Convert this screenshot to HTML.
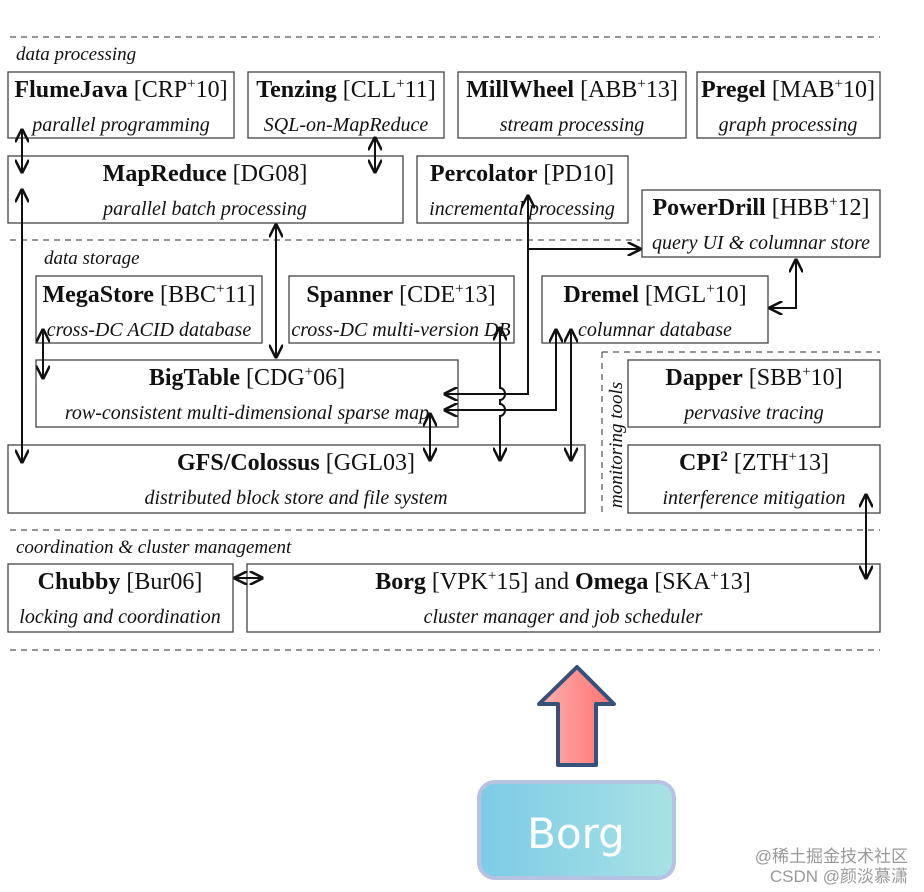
<!DOCTYPE html>
<html><head><meta charset="utf-8"><style>
html,body{margin:0;padding:0;background:#fff;}
svg{display:block;}
.t{font-family:"Liberation Serif",serif;font-size:24px;fill:#111;text-anchor:middle;}
.b{font-weight:bold;}
.i{font-family:"Liberation Serif",serif;font-style:italic;font-size:20px;fill:#111;text-anchor:middle;}
.s{font-family:"Liberation Serif",serif;font-style:italic;font-size:19px;fill:#111;}
.bx{fill:#fff;stroke:#444;stroke-width:1.3;}
.d{stroke:#555;stroke-width:1.2;stroke-dasharray:6 5;fill:none;}
.a{stroke:#111;stroke-width:2;fill:none;marker-start:url(#m);marker-end:url(#m);}
.a1{stroke:#111;stroke-width:2;fill:none;marker-end:url(#m);}
</style></head><body>
<svg width="924" height="892" viewBox="0 0 924 892" xmlns="http://www.w3.org/2000/svg">
<defs>
<marker id="m" viewBox="0 0 10 10" refX="9" refY="5" markerWidth="7" markerHeight="7" orient="auto-start-reverse"><path d="M0,0 L10,5 L0,10" fill="none" stroke="#111" stroke-width="1.8"/></marker>
<linearGradient id="ra" x1="0" x2="1"><stop offset="0" stop-color="#ffb0b0"/><stop offset="1" stop-color="#ff7070"/></linearGradient>
<linearGradient id="bg" x1="0" x2="1"><stop offset="0" stop-color="#7ccbe6"/><stop offset="1" stop-color="#a8e2e4"/></linearGradient>
</defs>
<line class="d" x1="10" y1="37" x2="880" y2="37"/>
<line class="d" x1="10" y1="240" x2="640" y2="240"/>
<line class="d" x1="10" y1="530" x2="880" y2="530"/>
<line class="d" x1="10" y1="650" x2="880" y2="650"/>
<line class="d" x1="602" y1="352" x2="602" y2="515"/>
<line class="d" x1="602" y1="352" x2="880" y2="352"/>
<text class="s" x="16" y="60">data processing</text>
<text class="s" x="44" y="264">data storage</text>
<text class="s" x="16" y="553">coordination &amp; cluster management</text>
<text class="s" transform="translate(622,508) rotate(-90)">monitoring tools</text>

<rect class="bx" x="8" y="72" width="226" height="66"/>
<text class="t" x="121" y="97"><tspan class="b">FlumeJava</tspan> [CRP<tspan font-size="15" dy="-9">+</tspan><tspan dy="9">10]</tspan></text>
<text class="i" x="121" y="131">parallel programming</text>
<rect class="bx" x="248" y="72" width="196" height="66"/>
<text class="t" x="346" y="97"><tspan class="b">Tenzing</tspan> [CLL<tspan font-size="15" dy="-9">+</tspan><tspan dy="9">11]</tspan></text>
<text class="i" x="346" y="131">SQL-on-MapReduce</text>
<rect class="bx" x="458" y="72" width="228" height="66"/>
<text class="t" x="572" y="97"><tspan class="b">MillWheel</tspan> [ABB<tspan font-size="15" dy="-9">+</tspan><tspan dy="9">13]</tspan></text>
<text class="i" x="572" y="131">stream processing</text>
<rect class="bx" x="697" y="72" width="183" height="66"/>
<text class="t" x="788" y="97"><tspan class="b">Pregel</tspan> [MAB<tspan font-size="15" dy="-9">+</tspan><tspan dy="9">10]</tspan></text>
<text class="i" x="788" y="131">graph processing</text>

<rect class="bx" x="8" y="156" width="395" height="67"/>
<text class="t" x="205" y="181"><tspan class="b">MapReduce</tspan> [DG08]</text>
<text class="i" x="205" y="215">parallel batch processing</text>
<rect class="bx" x="417" y="156" width="211" height="67"/>
<text class="t" x="522" y="181"><tspan class="b">Percolator</tspan> [PD10]</text>
<text class="i" x="522" y="215">incremental processing</text>
<rect class="bx" x="642" y="190" width="238" height="67"/>
<text class="t" x="761" y="215"><tspan class="b">PowerDrill</tspan> [HBB<tspan font-size="15" dy="-9">+</tspan><tspan dy="9">12]</tspan></text>
<text class="i" x="761" y="249">query UI &amp; columnar store</text>

<rect class="bx" x="36" y="276" width="226" height="67"/>
<text class="t" x="149" y="302"><tspan class="b">MegaStore</tspan> [BBC<tspan font-size="15" dy="-9">+</tspan><tspan dy="9">11]</tspan></text>
<text class="i" x="149" y="336">cross-DC ACID database</text>
<rect class="bx" x="289" y="276" width="225" height="67"/>
<text class="t" x="401" y="302"><tspan class="b">Spanner</tspan> [CDE<tspan font-size="15" dy="-9">+</tspan><tspan dy="9">13]</tspan></text>
<text class="i" x="401" y="336">cross-DC multi-version DB</text>
<rect class="bx" x="542" y="276" width="226" height="67"/>
<text class="t" x="655" y="302"><tspan class="b">Dremel</tspan> [MGL<tspan font-size="15" dy="-9">+</tspan><tspan dy="9">10]</tspan></text>
<text class="i" x="655" y="336">columnar database</text>

<rect class="bx" x="36" y="360" width="422" height="67"/>
<text class="t" x="247" y="385"><tspan class="b">BigTable</tspan> [CDG<tspan font-size="15" dy="-9">+</tspan><tspan dy="9">06]</tspan></text>
<text class="i" x="247" y="419">row-consistent multi-dimensional sparse map</text>
<rect class="bx" x="628" y="360" width="252" height="67"/>
<text class="t" x="754" y="385"><tspan class="b">Dapper</tspan> [SBB<tspan font-size="15" dy="-9">+</tspan><tspan dy="9">10]</tspan></text>
<text class="i" x="754" y="419">pervasive tracing</text>

<rect class="bx" x="8" y="445" width="577" height="68"/>
<text class="t" x="296" y="470"><tspan class="b">GFS/Colossus</tspan> [GGL03]</text>
<text class="i" x="296" y="504">distributed block store and file system</text>
<rect class="bx" x="628" y="445" width="252" height="68"/>
<text class="t" x="754" y="470"><tspan class="b">CPI<tspan font-size="15" dy="-9">2</tspan></tspan><tspan dy="9"> [ZTH</tspan><tspan font-size="15" dy="-9">+</tspan><tspan dy="9">13]</tspan></text>
<text class="i" x="754" y="504">interference mitigation</text>

<rect class="bx" x="8" y="564" width="225" height="68"/>
<text class="t" x="120" y="589"><tspan class="b">Chubby</tspan> [Bur06]</text>
<text class="i" x="120" y="623">locking and coordination</text>
<rect class="bx" x="247" y="564" width="633" height="68"/>
<text class="t" x="563" y="589"><tspan class="b">Borg</tspan> [VPK<tspan font-size="15" dy="-9">+</tspan><tspan dy="9">15] and </tspan><tspan class="b">Omega</tspan> [SKA<tspan font-size="15" dy="-9">+</tspan><tspan dy="9">13]</tspan></text>
<text class="i" x="563" y="623">cluster manager and job scheduler</text>

<line class="a" x1="22" y1="130" x2="22" y2="172"/>
<line class="a" x1="375" y1="138" x2="375" y2="172"/>
<line class="a" x1="22" y1="190" x2="22" y2="462"/>
<line class="a" x1="276" y1="225" x2="276" y2="357"/>
<line class="a" x1="43" y1="330" x2="43" y2="378"/>
<path class="a" d="M528,196 L528,394 L445,394"/>
<line class="a1" x1="528" y1="249" x2="640" y2="249"/>
<path class="a" d="M556,330 L556,410 L445,410"/>
<line class="a" x1="571" y1="330" x2="571" y2="460"/>
<path class="a" d="M500,328 L500,388 a5,6 0 0 1 0,12 L500,404 a5,6 0 0 1 0,12 L500,460"/>
<line class="a" x1="430" y1="414" x2="430" y2="460"/>
<path class="a" d="M796,260 L796,308 L770,308"/>
<line class="a" x1="235" y1="578" x2="262" y2="578"/>
<line class="a" x1="866" y1="495" x2="866" y2="578"/>

<path d="M577,667 L614,704 L596,704 L596,765 L558,765 L558,704 L539,704 Z" fill="url(#ra)" stroke="#34527a" stroke-width="4" stroke-linejoin="round"/>
<rect x="479" y="782" width="195" height="96" rx="16" fill="url(#bg)" stroke="#b5c2e2" stroke-width="4"/>
<text x="576" y="848" font-family="DejaVu Sans, sans-serif" font-size="42" fill="#fff" text-anchor="middle">Borg</text>
<text x="908" y="862" font-family="Liberation Sans, 'Noto Sans CJK SC', sans-serif" font-size="17" fill="#999" text-anchor="end">@稀土掘金技术社区</text>
<text x="908" y="882" font-family="Liberation Sans, 'Noto Sans CJK SC', sans-serif" font-size="17" fill="#999" text-anchor="end">CSDN @颜淡慕潇</text>
</svg>
</body></html>
